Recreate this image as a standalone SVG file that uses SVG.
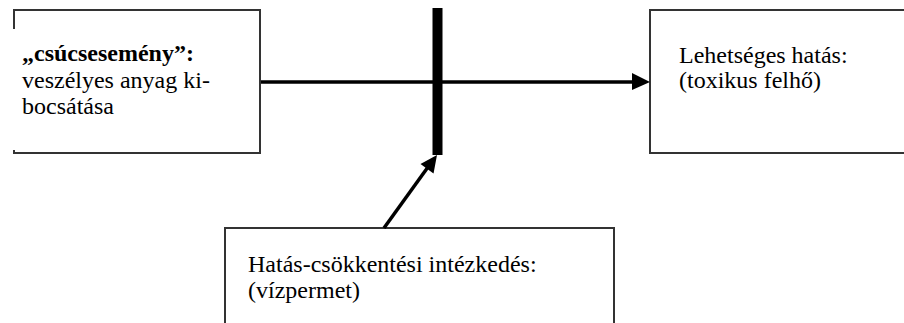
<svg xmlns="http://www.w3.org/2000/svg" width="904" height="323" viewBox="0 0 904 323">
<defs>
<style>
.box{fill:#fff;stroke:#333;stroke-width:2}
.t{font-family:"Liberation Serif","Times New Roman",serif;font-size:24px;fill:#000}
.b{font-weight:bold}
.ln{stroke:#000;stroke-width:3.5;fill:none}
</style>
<clipPath id="bc"><rect x="225" y="228" width="390" height="78"/></clipPath>
</defs>
<rect width="904" height="323" fill="#fff"/>
<g id="top-event">
<rect class="box" x="14" y="10" width="246" height="143"/>
<rect x="8" y="29" width="248" height="121" fill="#fff"/>
<text class="t b" x="22" y="61">„csúcsesemény”:</text>
<text class="t" x="22" y="87.5">veszélyes anyag ki-</text>
<text class="t" x="22" y="113.5">bocsátása</text>
</g>
<g id="possible-impact">
<rect class="box" x="650" y="10" width="270" height="143"/>
<text class="t" x="679" y="63">Lehetséges hatás:</text>
<text class="t" x="679" y="88">(toxikus felhő)</text>
</g>
<g id="mitigation">
<rect class="box" x="225" y="228" width="389" height="110"/>
<g clip-path="url(#bc)">
<text class="t" x="248" y="272">Hatás-csökkentési intézkedés:</text>
<text class="t" x="248" y="298">(vízpermet)</text>
</g>
</g>
<g id="connectors">
<line class="ln" x1="261" y1="82" x2="634" y2="82"/>
<polygon points="632,73 650,82 632,90" fill="#000"/>
<rect x="432.5" y="8" width="10" height="147" fill="#000"/>
<line class="ln" x1="384" y1="228" x2="428" y2="167"/>
<polygon points="437,155 433.5,173.5 420.5,164" fill="#000"/>
</g>
</svg>
